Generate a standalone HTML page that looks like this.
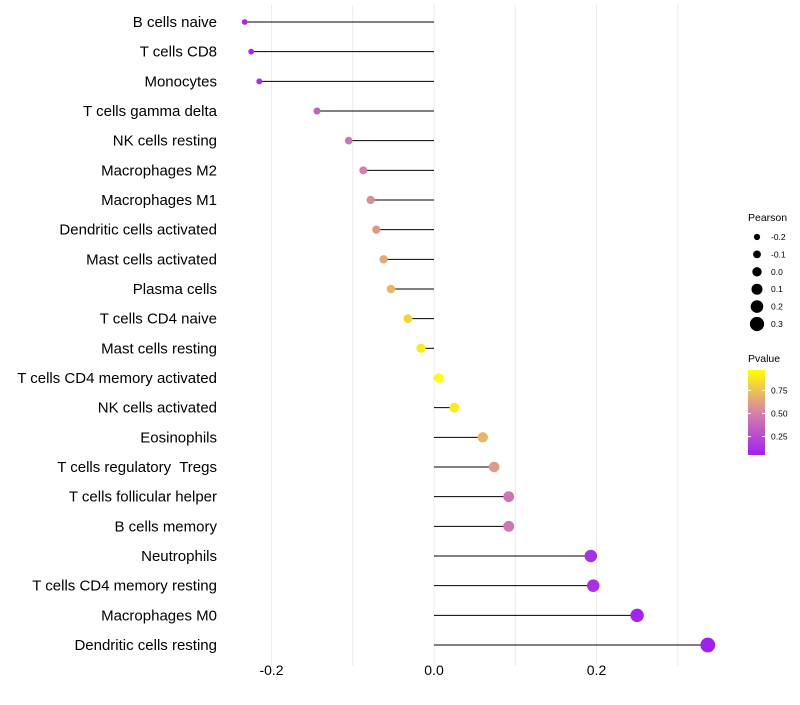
<!DOCTYPE html>
<html><head><meta charset="utf-8"><style>
body{margin:0;background:#fff;font-family:"Liberation Sans",sans-serif}
</style></head><body>
<svg id="chart" width="800" height="700" font-family="Liberation Sans, sans-serif"></svg>
<script>
const categories=["B cells naive","T cells CD8","Monocytes","T cells gamma delta","NK cells resting","Macrophages M2","Macrophages M1","Dendritic cells activated","Mast cells activated","Plasma cells","T cells CD4 naive","Mast cells resting","T cells CD4 memory activated","NK cells activated","Eosinophils","T cells regulatory  Tregs","T cells follicular helper","B cells memory","Neutrophils","T cells CD4 memory resting","Macrophages M0","Dendritic cells resting"];
const pearson=[-0.233,-0.225,-0.215,-0.144,-0.105,-0.087,-0.078,-0.071,-0.062,-0.053,-0.032,-0.016,0.006,0.025,0.060,0.074,0.092,0.092,0.193,0.196,0.250,0.337];
const pvalue=[0.08,0.1,0.12,0.35,0.45,0.5,0.55,0.6,0.65,0.7,0.82,0.9,0.97,0.9,0.7,0.6,0.45,0.45,0.13,0.13,0.07,0.05];
const xTicks=[-0.2,0.0,0.2];
const sizeLegend=[-0.2,-0.1,0.0,0.1,0.2,0.3];
const colorTicks=[0.25,0.5,0.75];
const NS="http://www.w3.org/2000/svg",svg=document.getElementById('chart');
const X=v=>434+v*812.5, Y=i=>22+i*29.667, R=v=>3.1+8*(v+0.2);
const pMin=0.05,pMax=0.97;
function lerp(a,b,t){return Math.round(a+(b-a)*t)}
function col(p){let t=Math.max(0,Math.min(1,(p-pMin)/(pMax-pMin)));const s=[[160,32,240],[214,130,170],[255,255,0]];
let a,b,u;if(t<0.5){a=s[0];b=s[1];u=t/0.5}else{a=s[1];b=s[2];u=(t-0.5)/0.5}
return `rgb(${lerp(a[0],b[0],u)},${lerp(a[1],b[1],u)},${lerp(a[2],b[2],u)})`}
function el(t,at,txt){const e=document.createElementNS(NS,t);for(const k in at)e.setAttribute(k,at[k]);if(txt!=null)e.textContent=txt;svg.appendChild(e);return e}
[-0.2,-0.1,0,0.1,0.2,0.3].forEach(v=>{const l=el('line',{x1:X(v),x2:X(v),y1:5,y2:666,stroke:'#ebebeb','stroke-width':1});});
categories.forEach((c,i)=>{
const t=el('text',{x:217,y:Y(i)+5,'text-anchor':'end','font-size':15,fill:'#000',style:'white-space:pre'},c);
const l=el('line',{x1:X(0),x2:X(pearson[i]),y1:Y(i),y2:Y(i),stroke:'#000','stroke-width':1});
const d=el('circle',{cx:X(pearson[i]),cy:Y(i),r:R(pearson[i]),fill:col(pvalue[i])});
});
xTicks.forEach(v=>{const t=el('text',{x:X(v),y:675,'text-anchor':'middle','font-size':14,fill:'#000'},v.toFixed(1));});
let t=el('text',{x:748,y:221,'font-size':10.5},'Pearson');
sizeLegend.forEach((v,i)=>{const y=237+i*17.4;const c=el('circle',{cx:757,cy:y,r:R(v),fill:'#000'});
const tt=el('text',{x:771,y:y+3,'font-size':8.5},v.toFixed(1));});
t=el('text',{x:748,y:362,'font-size':10.5},'Pvalue');
const defs=el('defs',{});const g=document.createElementNS(NS,'linearGradient');g.setAttribute('id','pg');g.setAttribute('x1',0);g.setAttribute('y1',1);g.setAttribute('x2',0);g.setAttribute('y2',0);defs.appendChild(g);
for(let k=0;k<=10;k++){const p=pMin+(pMax-pMin)*k/10;const s=document.createElementNS(NS,'stop');s.setAttribute('offset',k/10);s.setAttribute('stop-color',col(p));g.appendChild(s);}
const cbTop=370,cbBot=455,PY=p=>cbBot-(p-pMin)/(pMax-pMin)*(cbBot-cbTop);
const rc=el('rect',{x:748,y:cbTop,width:17,height:cbBot-cbTop,fill:'url(#pg)'});
colorTicks.forEach(p=>{const ln=el('line',{x1:748,x2:751,y1:PY(p),y2:PY(p),stroke:'#fff'});
const ln2=el('line',{x1:762,x2:765,y1:PY(p),y2:PY(p),stroke:'#fff'});
const tt=el('text',{x:771,y:PY(p)+3,'font-size':8.5},p.toFixed(2));});
</script>
</body></html>
